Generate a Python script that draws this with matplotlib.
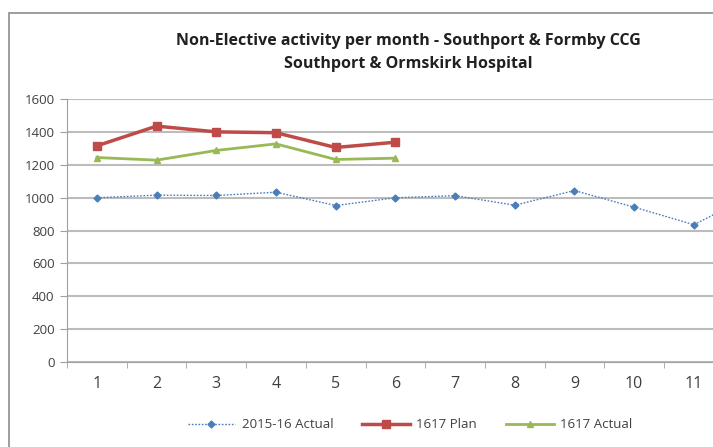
import matplotlib
matplotlib.use("Agg")
import matplotlib.pyplot as plt
from matplotlib.patches import Rectangle

months = [1, 2, 3, 4, 5, 6, 7, 8, 9, 10, 11, 12]
actual_1516 = [999, 1015, 1013, 1033, 952, 999, 1012, 954, 1043, 942, 835, 1020]
months_1617 = [1, 2, 3, 4, 5, 6]
plan_1617 = [1315, 1435, 1400, 1395, 1305, 1337]
actual_1617 = [1244, 1228, 1287, 1327, 1232, 1240]
yticks = [0, 200, 400, 600, 800, 1000, 1200, 1400, 1600]
xticklabels = ["1", "2", "3", "4", "5", "6", "7", "8", "9", "10", "11", "12"]

plt.rcParams['font.family'] = ['Open Sans', 'DejaVu Sans']

W, H = 713, 447
fig = plt.figure(figsize=(W / 100, H / 100), dpi=100)

# outer chart frame
fig.patches.append(Rectangle((9 / W, -0.1), 1.2, 1 - 13 / H + 0.1, transform=fig.transFigure,
                             fill=False, edgecolor='#8c8c8c', linewidth=1.2))

ax = fig.add_axes([67 / W, 1 - 362 / H, 1 - 67 / W, (362 - 99) / H])
ax.set_yticks(yticks)
ax.set_yticklabels([str(v) for v in yticks], fontsize=9.5, color='#404040')
ax.set_xticks(months)
ax.set_xticklabels(xticklabels, fontsize=11.5, color='#404040')
ax.set_xticks([m + 0.5 for m in [0] + months[:-1]], minor=True)
ax.tick_params(axis='x', which='major', length=0, pad=10)
ax.tick_params(axis='x', which='minor', length=4, color='#a0a0a0', direction='out')
ax.tick_params(axis='y', length=5, color='#a0a0a0', direction='out', pad=4)

ax.grid(axis='y', color='#bcbcbc', linewidth=1.5)
ax.set_axisbelow(True)
for s in ['top', 'right']:
    ax.spines[s].set_visible(False)
ax.spines['left'].set_color('#a0a0a0')
ax.spines['bottom'].set_color('#a0a0a0')

ax.plot(months, actual_1516, color='#4a7ebb', linestyle=(0, (1.2, 1.2)), linewidth=1.0,
        marker='D', markersize=3.5, label='2015-16 Actual')
ax.plot(months_1617, plan_1617, color='#be4b48', linewidth=2.5,
        marker='s', markersize=5.5, label='1617 Plan')
ax.plot(months_1617, actual_1617, color='#98b954', linewidth=2.0,
        marker='^', markersize=5, label='1617 Actual')

ax.set_xlim(0.5, 0.5 + (713 - 67) / 59.7)
ax.set_ylim(0, 1600)

fig.text(408 / W, 1 - 41 / H, "Non-Elective activity per month - Southport & Formby CCG",
         ha='center', va='center', fontsize=11.5, fontweight='bold', color='#202020')
fig.text(408 / W, 1 - 64 / H, "Southport & Ormskirk Hospital",
         ha='center', va='center', fontsize=11.5, fontweight='bold', color='#202020')

leg = fig.legend(loc='center', bbox_to_anchor=(410 / W, 1 - 425 / H), ncol=3, frameon=False,
                 fontsize=9.5, handlelength=3.6, columnspacing=2.2, handletextpad=0.5)
for t in leg.get_texts():
    t.set_color('#404040')

fig.savefig("out.png", dpi=100)
